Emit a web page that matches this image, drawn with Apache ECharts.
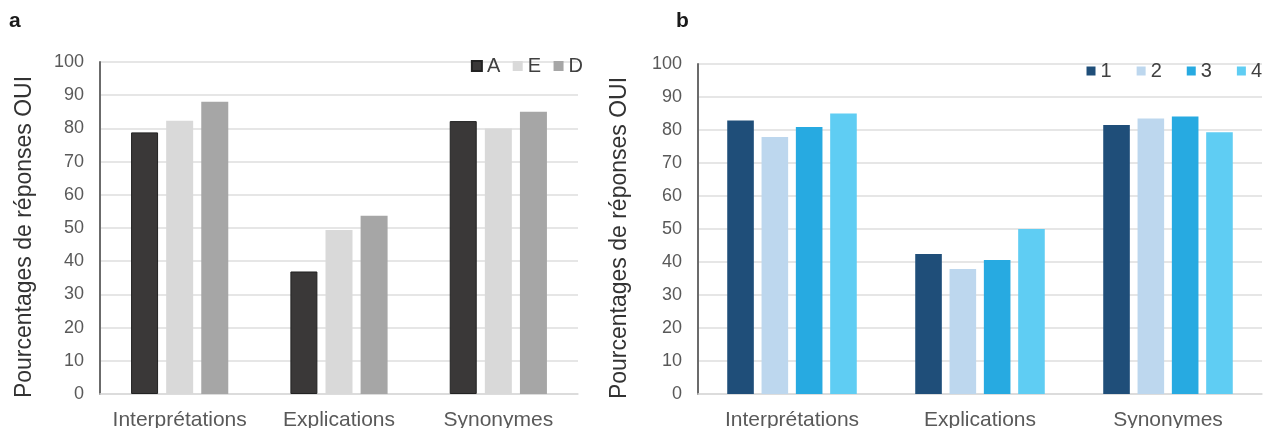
<!DOCTYPE html>
<html>
<head>
<meta charset="utf-8">
<script src="https://cdn.jsdelivr.net/npm/echarts@6/dist/echarts.min.js"></script>
<style>
html,body{margin:0;padding:0;background:#fff;}
#c{width:1264px;height:428px;}
</style>
</head>
<body>
<div id="c"></div>
<script>
// Data
var categories = ['Interprétations', 'Explications', 'Synonymes'];
var yTicks = [0, 10, 20, 30, 40, 50, 60, 70, 80, 90, 100];
var yName = 'Pourcentages de réponses OUI';

// Panel a
var namesA = ['A', 'E', 'D'];
var seriesA_A = [78.8, 36.9, 82.2];
var seriesA_E = [82.3, 49.4, 80.0];
var seriesA_D = [88.0, 53.7, 85.0];

// Panel b
var namesB = ['1', '2', '3', '4'];
var seriesB_1 = [82.9, 42.4, 81.5];
var seriesB_2 = [77.9, 37.9, 83.5];
var seriesB_3 = [80.9, 40.6, 84.1];
var seriesB_4 = [85.0, 50.0, 79.3];

var colorsA = ['#3a3838', '#d9d9d9', '#a6a6a6'];
var colorsB = ['#1f4e79', '#bdd7ee', '#27aae1', '#5fcdf3'];

var FONT = '"Liberation Sans", Arial, sans-serif';

function yAxisCfg(gridIndex, gap) {
  return {
    gridIndex: gridIndex,
    type: 'value',
    min: yTicks[0],
    max: yTicks[yTicks.length - 1],
    interval: yTicks[1] - yTicks[0],
    name: yName,
    nameLocation: 'middle',
    nameRotate: 90,
    nameGap: gap,
    nameTextStyle: {fontFamily: FONT, fontSize: 23, color: '#333333', padding: [0, 18, 0, 0]},
    axisLine: {show: true, lineStyle: {color: '#6b6b6b', width: 2}},
    axisTick: {show: false},
    axisLabel: {fontFamily: FONT, fontSize: 18, color: '#595959', margin: 16},
    splitLine: {show: true, lineStyle: {color: '#dedede', width: 1.5}}
  };
}
function xAxisCfg(gridIndex) {
  return {
    gridIndex: gridIndex,
    type: 'category',
    data: categories,
    axisLine: {show: true, lineStyle: {color: '#d9d9d9', width: 1.5}},
    axisTick: {show: false},
    axisLabel: {fontFamily: FONT, fontSize: 21, color: '#595959', margin: 16, interval: 0}
  };
}

var seriesList = [];
var dataA = [seriesA_A, seriesA_E, seriesA_D];
for (var i = 0; i < namesA.length; i++) {
  seriesList.push({
    name: namesA[i], type: 'bar', xAxisIndex: 0, yAxisIndex: 0,
    data: dataA[i], barWidth: 27, barGap: '30%',
    itemStyle: {color: colorsA[i], borderColor: i === 0 ? '#222222' : colorsA[i], borderWidth: i === 0 ? 1 : 0},
    emphasis: {disabled: true}
  });
}
var dataB = [seriesB_1, seriesB_2, seriesB_3, seriesB_4];
for (var j = 0; j < namesB.length; j++) {
  seriesList.push({
    name: namesB[j], type: 'bar', xAxisIndex: 1, yAxisIndex: 1,
    data: dataB[j], barWidth: 26.6, barGap: '29%',
    itemStyle: {color: colorsB[j]},
    emphasis: {disabled: true}
  });
}

var chart = echarts.init(document.getElementById('c'), null, {renderer: 'canvas'});
chart.setOption({
  animation: false,
  backgroundColor: '#ffffff',
  title: [
    {text: 'a', left: 9, top: 11, padding: 0, textStyle: {fontFamily: FONT, fontSize: 21, fontWeight: 'bold', color: '#1a1a1a'}},
    {text: 'b', left: 676, top: 11, padding: 0, textStyle: {fontFamily: FONT, fontSize: 21, fontWeight: 'bold', color: '#1a1a1a'}}
  ],
  legend: [
    {data: namesA, right: 681, top: 56, padding: 0, itemWidth: 10, itemHeight: 10, itemGap: 12.5,
     icon: 'rect', selectedMode: false,
     textStyle: {fontFamily: FONT, fontSize: 20, color: '#404040'}},
    {data: namesB, right: 2, top: 61, padding: 0, itemWidth: 9, itemHeight: 9, itemGap: 25,
     icon: 'rect', selectedMode: false,
     textStyle: {fontFamily: FONT, fontSize: 20, color: '#404040'}}
  ],
  grid: [
    {left: 100, right: 686, top: 62, bottom: 34, containLabel: false, outerBoundsMode: 'none'},
    {left: 698, right: 2, top: 64, bottom: 34, containLabel: false, outerBoundsMode: 'none'}
  ],
  xAxis: [xAxisCfg(0), xAxisCfg(1)],
  yAxis: [yAxisCfg(0, 64), yAxisCfg(1, 67)],
  series: seriesList
});
</script>
</body>
</html>
